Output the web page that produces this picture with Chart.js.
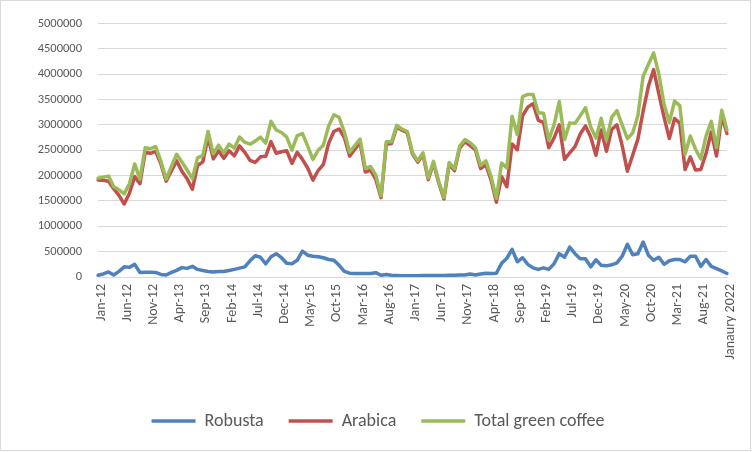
<!DOCTYPE html>
<html>
<head>
<meta charset="utf-8">
<script src="https://cdn.jsdelivr.net/npm/chart.js"></script>
<style>
  html, body { margin: 0; padding: 0; background: #fff; }
  canvas { display: block; }
</style>
</head>
<body>
<canvas id="coffee" width="752" height="452"></canvas>
<script>
// monthly categories, Jan 2012 .. Jan 2022 (last label as written in the source)
const months = [
  'Jan-12','Feb-12','Mar-12','Apr-12','May-12','Jun-12','Jul-12','Aug-12','Sep-12','Oct-12','Nov-12','Dec-12',
  'Jan-13','Feb-13','Mar-13','Apr-13','May-13','Jun-13','Jul-13','Aug-13','Sep-13','Oct-13','Nov-13','Dec-13',
  'Jan-14','Feb-14','Mar-14','Apr-14','May-14','Jun-14','Jul-14','Aug-14','Sep-14','Oct-14','Nov-14','Dec-14',
  'Jan-15','Feb-15','Mar-15','Apr-15','May-15','Jun-15','Jul-15','Aug-15','Sep-15','Oct-15','Nov-15','Dec-15',
  'Jan-16','Feb-16','Mar-16','Apr-16','May-16','Jun-16','Jul-16','Aug-16','Sep-16','Oct-16','Nov-16','Dec-16',
  'Jan-17','Feb-17','Mar-17','Apr-17','May-17','Jun-17','Jul-17','Aug-17','Sep-17','Oct-17','Nov-17','Dec-17',
  'Jan-18','Feb-18','Mar-18','Apr-18','May-18','Jun-18','Jul-18','Aug-18','Sep-18','Oct-18','Nov-18','Dec-18',
  'Jan-19','Feb-19','Mar-19','Apr-19','May-19','Jun-19','Jul-19','Aug-19','Sep-19','Oct-19','Nov-19','Dec-19',
  'Jan-20','Feb-20','Mar-20','Apr-20','May-20','Jun-20','Jul-20','Aug-20','Sep-20','Oct-20','Nov-20','Dec-20',
  'Jan-21','Feb-21','Mar-21','Apr-21','May-21','Jun-21','Jul-21','Aug-21','Sep-21','Oct-21','Nov-21','Dec-21',
  'Janaury 2022'
];

// values (bags)
const robusta = [
  35000, 60000, 100000, 40000, 110000, 200000, 190000, 250000, 90000, 92000, 92000, 90000,
  50000, 40000, 90000, 130000, 185000, 170000, 210000, 150000, 130000, 110000, 100000, 110000,
  110000, 130000, 150000, 175000, 200000, 320000, 420000, 390000, 260000, 400000, 460000, 380000,
  270000, 260000, 330000, 510000, 430000, 410000, 400000, 380000, 345000, 330000, 230000, 110000,
  75000, 70000, 70000, 70000, 70000, 85000, 35000, 50000, 35000, 30000, 25000, 25000,
  25000, 25000, 30000, 30000, 30000, 30000, 30000, 35000, 35000, 40000, 40000, 60000,
  40000, 60000, 75000, 70000, 75000, 270000, 370000, 545000, 300000, 380000, 250000, 180000,
  150000, 180000, 150000, 260000, 460000, 390000, 590000, 460000, 360000, 360000, 200000, 340000,
  230000, 220000, 240000, 280000, 410000, 645000, 440000, 460000, 690000, 430000, 330000, 390000,
  250000, 320000, 345000, 345000, 300000, 410000, 410000, 210000, 345000, 210000, 165000, 120000,
  70000
];

const arabica = [
  1915000, 1910000, 1890000, 1740000, 1610000, 1440000, 1650000, 1980000, 1840000, 2460000, 2440000, 2480000,
  2230000, 1890000, 2090000, 2290000, 2085000, 1940000, 1730000, 2200000, 2270000, 2760000, 2330000, 2490000,
  2340000, 2490000, 2390000, 2585000, 2460000, 2300000, 2260000, 2370000, 2380000, 2670000, 2440000, 2470000,
  2490000, 2240000, 2460000, 2320000, 2150000, 1910000, 2100000, 2220000, 2635000, 2870000, 2920000, 2750000,
  2385000, 2520000, 2650000, 2070000, 2110000, 1925000, 1565000, 2620000, 2635000, 2960000, 2895000, 2845000,
  2425000, 2265000, 2420000, 1920000, 2250000, 1860000, 1540000, 2225000, 2095000, 2540000, 2670000, 2590000,
  2510000, 2140000, 2215000, 1910000, 1475000, 1980000, 1780000, 2625000, 2510000, 3180000, 3350000, 3420000,
  3090000, 3050000, 2550000, 2740000, 3000000, 2320000, 2450000, 2570000, 2820000, 2980000, 2760000, 2400000,
  2900000, 2480000, 2910000, 3000000, 2590000, 2085000, 2400000, 2720000, 3270000, 3760000, 4090000, 3610000,
  3150000, 2730000, 3125000, 3035000, 2120000, 2370000, 2110000, 2120000, 2435000, 2860000, 2385000, 3170000,
  2830000
];

const totalGreen = [
  1950000, 1970000, 1990000, 1780000, 1720000, 1640000, 1840000, 2230000, 1930000, 2550000, 2530000, 2570000,
  2280000, 1930000, 2180000, 2420000, 2270000, 2110000, 1940000, 2350000, 2400000, 2870000, 2430000, 2600000,
  2450000, 2620000, 2540000, 2760000, 2660000, 2620000, 2680000, 2760000, 2640000, 3070000, 2900000, 2850000,
  2760000, 2500000, 2790000, 2830000, 2580000, 2320000, 2500000, 2600000, 2980000, 3200000, 3150000, 2860000,
  2460000, 2590000, 2720000, 2140000, 2180000, 2010000, 1600000, 2670000, 2670000, 2990000, 2920000, 2870000,
  2450000, 2290000, 2450000, 1950000, 2280000, 1890000, 1570000, 2260000, 2130000, 2580000, 2710000, 2650000,
  2550000, 2200000, 2290000, 1980000, 1550000, 2250000, 2150000, 3170000, 2810000, 3560000, 3600000, 3600000,
  3240000, 3230000, 2700000, 3000000, 3460000, 2710000, 3040000, 3030000, 3180000, 3340000, 2960000, 2740000,
  3130000, 2700000, 3150000, 3280000, 3000000, 2730000, 2840000, 3180000, 3960000, 4190000, 4420000, 4000000,
  3400000, 3050000, 3470000, 3380000, 2420000, 2780000, 2520000, 2330000, 2780000, 3070000, 2550000, 3290000,
  2900000
];

const yMax = 5000000;
const yStep = 500000;
const labelEvery = 5; // only every fifth month gets a label

const fontFamily = "Carlito, Calibri, Lato, sans-serif";
const textColor = '#595959';
const gridColor = '#d9d9d9';

// white background + thin frame like the Excel chart area
const chartFrame = {
  id: 'chartFrame',
  beforeDraw(chart) {
    const c = chart.ctx;
    c.save();
    c.fillStyle = '#ffffff';
    c.fillRect(0, 0, chart.width, chart.height);
    c.strokeStyle = gridColor;
    c.lineWidth = 1;
    c.strokeRect(0.5, 0.5, chart.width - 2, chart.height - 2);
    c.restore();
  }
};

function lineSet(label, data, color, order) {
  return {
    label: label,
    data: data,
    borderColor: color,
    backgroundColor: color,
    borderWidth: 3.5,
    pointRadius: 0,
    pointHoverRadius: 0,
    tension: 0,
    fill: false,
    borderJoinStyle: 'round',
    borderCapStyle: 'round',
    order: order // green drawn last, on top
  };
}

new Chart(document.getElementById('coffee'), {
  type: 'line',
  data: {
    labels: months,
    datasets: [
      lineSet('Robusta', robusta, '#4f81bd', 3),
      lineSet('Arabica', arabica, '#c0504d', 2),
      lineSet('Total green coffee', totalGreen, '#9bbb59', 1)
    ]
  },
  options: {
    responsive: false,
    animation: false,
    devicePixelRatio: 1,
    layout: {
      padding: { top: 23, right: 25, bottom: 12, left: 29 }
    },
    scales: {
      x: {
        offset: false,
        grid: { display: false, drawTicks: false },
        border: { display: true, color: gridColor },
        ticks: {
          autoSkip: false,
          minRotation: 90,
          maxRotation: 90,
          padding: 7,
          labelOffset: 3,
          color: textColor,
          font: { family: fontFamily, size: 14 },
          callback: function(value, index) {
            return index % labelEvery === 0 ? this.getLabelForValue(value) : '';
          }
        },
        afterFit: function(scale) { scale.height = 110; }
      },
      y: {
        min: 0,
        max: yMax,
        grid: { color: gridColor, lineWidth: 1, drawTicks: false },
        border: { display: false },
        ticks: {
          stepSize: yStep,
          padding: 16,
          color: textColor,
          font: { family: fontFamily, size: 12.5 },
          callback: function(value) { return String(value); }
        },
        afterFit: function(scale) { scale.width = 69; }
      }
    },
    plugins: {
      legend: {
        position: 'bottom',
        labels: {
          usePointStyle: true,
          pointStyle: 'line',
          pointStyleWidth: 44,
          padding: 25,
          color: textColor,
          font: { family: fontFamily, size: 18 },
          sort: function(a, b) { return a.datasetIndex - b.datasetIndex; }
        }
      },
      tooltip: { enabled: false }
    }
  },
  plugins: [chartFrame]
});
</script>
</body>
</html>
